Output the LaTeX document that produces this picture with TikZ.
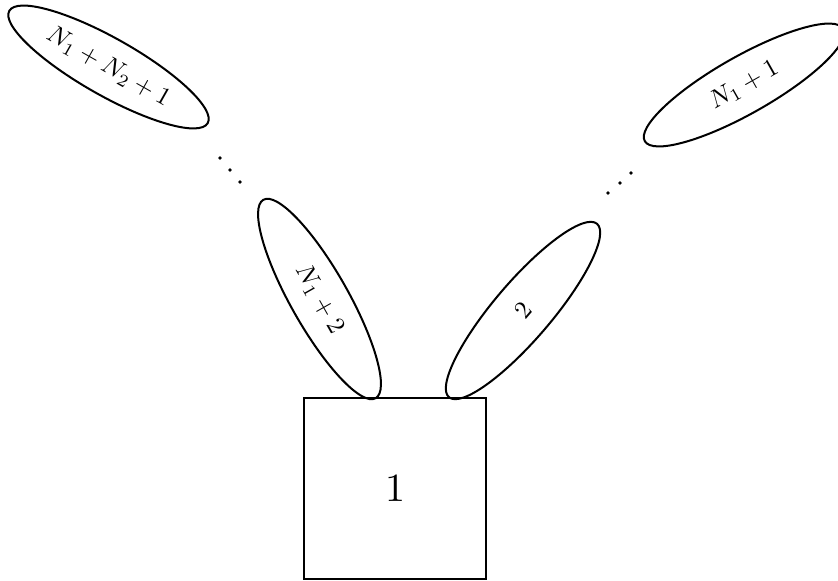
\documentclass[tikz,border=0pt]{standalone}
\usepackage{graphicx}
\usetikzlibrary{shapes.geometric}
\newcommand{\lobelabel}[1]{\scalebox{1.9}{$#1$}}
\begin{document}
\begin{tikzpicture}[x=0.75pt,y=-0.75pt,
  lobe/.style={draw, ellipse, line width=1.5pt, inner sep=0pt,
    minimum width=171pt, minimum height=43pt},
  boxnode/.style={draw, rectangle, line width=1.5pt, inner sep=0pt,
    minimum width=136.5pt, minimum height=135.75pt},
  dotnode/.style={circle, fill=black, inner sep=0pt, minimum size=2.8pt}]
\useasboundingbox (0,0) rectangle (838,581);
\node[boxnode] (sq) at (395,488.5) {\scalebox{3}{1}};
\node[lobe, rotate=-29.5] (e1) at (108.5,67) {\lobelabel{N_1+N_2+1}};
\node[lobe, rotate=29.5] (e2) at (744,85) {\lobelabel{N_1+1}};
\node[lobe, rotate=-60.5] (e3) at (319.5,299) {\lobelabel{N_1+2}};
\node[lobe, rotate=49.5] (e4) at (523,310.5) {\lobelabel{2}};
\node[dotnode] (l1) at (220,158) {};
\node[dotnode] (l2) at (230,170) {};
\node[dotnode] (l3) at (240,182) {};
\node[dotnode] (r1) at (608,193) {};
\node[dotnode] (r2) at (620,183) {};
\node[dotnode] (r3) at (631,173) {};
\end{tikzpicture}
\end{document}
